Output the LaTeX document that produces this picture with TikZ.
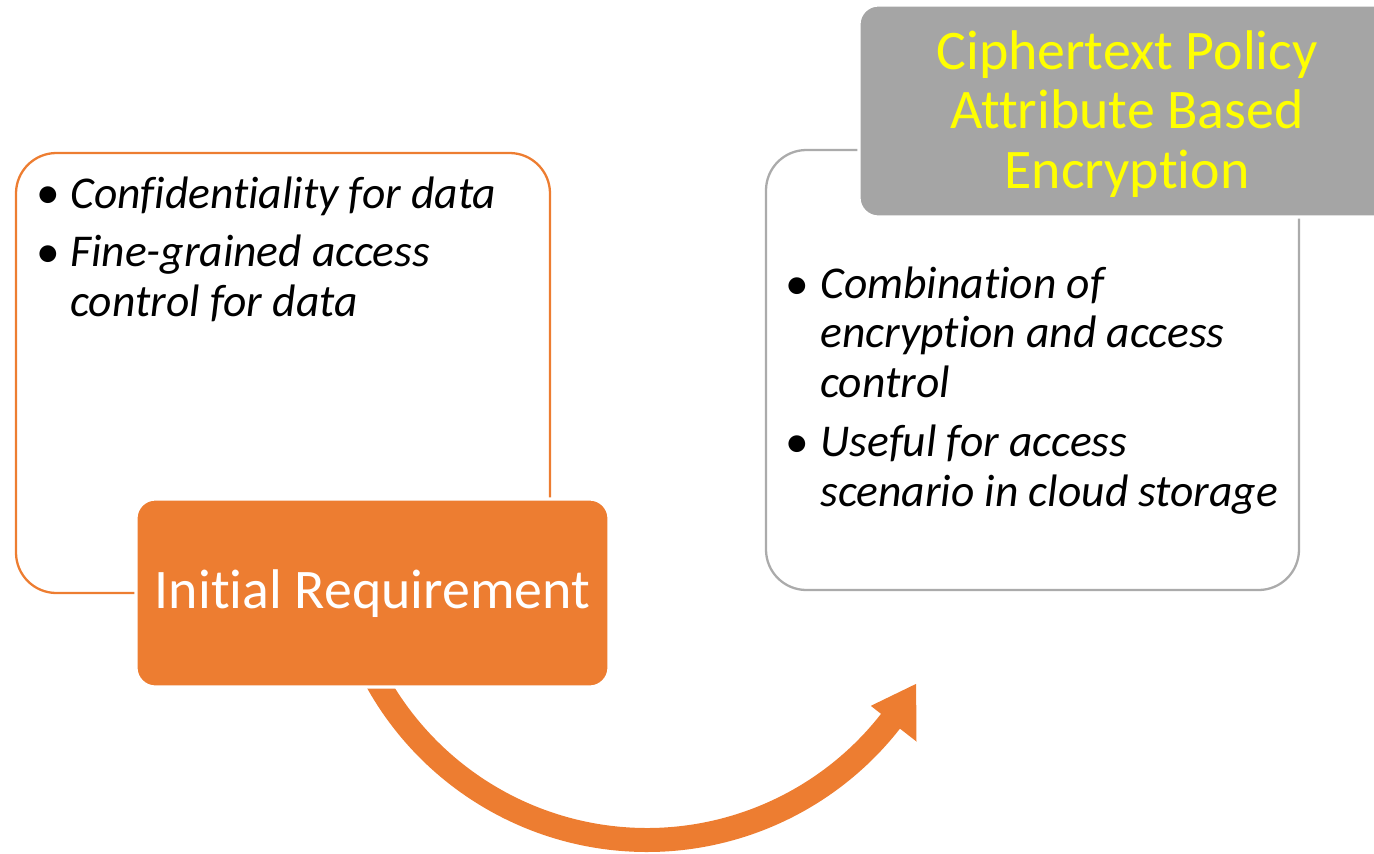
\documentclass[tikz,border=0pt]{standalone}
\usepackage{fontspec}
\setmainfont{Carlito}[Ligatures={NoCommon}]
\usetikzlibrary{calc}
\definecolor{accor}{HTML}{ED7D31}
\definecolor{accgr}{HTML}{A5A5A5}
\definecolor{lingr}{HTML}{ABABAB}
\definecolor{ttlyel}{HTML}{FFFF00}
\tikzset{
  outlinebox/.style={line width=1.3pt, rounded corners=23pt},
  headbox/.style={draw=white, line width=1.8pt, rounded corners=11pt},
  bodytxt/.style={anchor=base west, inner sep=0pt, align=left,
    font=\fontsize{25.9}{27.9}\selectfont\itshape},
  bullettxt/.style={anchor=base west, inner sep=0pt,
    font=\fontsize{27}{27.9}\selectfont},
  ttltxt/.style={align=center, inner sep=0pt,
    font=\fontsize{31.8}{34}\selectfont}
}
\begin{document}
\begin{tikzpicture}[x=0.02cm,y=-0.02cm]
\path[use as bounding box] (0,0) rectangle (1374,853);
\clip (0,0) rectangle (1374,853);
\coordinate (ac) at (647,531);
% outline boxes
\draw[outlinebox, draw=accor] (16,153) rectangle (550,593);
\draw[outlinebox, draw=lingr] (766,150) rectangle (1299,590);
% arrow
\fill[accor] ($(ac)+(153:321)$) arc[start angle=153, end angle=38, radius=321]
  -- ($(ac)+(38:342)$) -- ($(ac)+(29.6:309.5)$) -- ($(ac)+(38:284)$)
  -- ($(ac)+(38:297)$) arc[start angle=38, end angle=153, radius=297] -- cycle;
% header boxes
\filldraw[headbox, fill=accor] (136,499) rectangle (609,687);
\filldraw[headbox, fill=accgr] (859,5) rectangle (1395,217);
\node[ttltxt, text=white] (ir) at (372.5,594) {Initial Requirement};
\node[ttltxt, text=ttlyel] (cp) at (1127,114) {Ciphertext Policy\\Attribute Based\\Encryption};
% left bullets
\node[bullettxt] (lb1) at (36,208) {•};
\node[bodytxt] (lt1) at (70,208) {Confidentiality for data};
\node[bullettxt] (lb2) at (36,267) {•};
\node[bodytxt] (lt2) at (70,316) {Fine-grained access\\control for data};
% right bullets
\node[bullettxt] (rb1) at (785,299) {•};
\node[bodytxt] (rt1) at (820,397) {Combination of\\encryption and access\\control};
\node[bullettxt] (rb2) at (785,457) {•};
\node[bodytxt] (rt2) at (820,506) {Useful for access\\scenario in cloud storage};
\end{tikzpicture}
\end{document}
